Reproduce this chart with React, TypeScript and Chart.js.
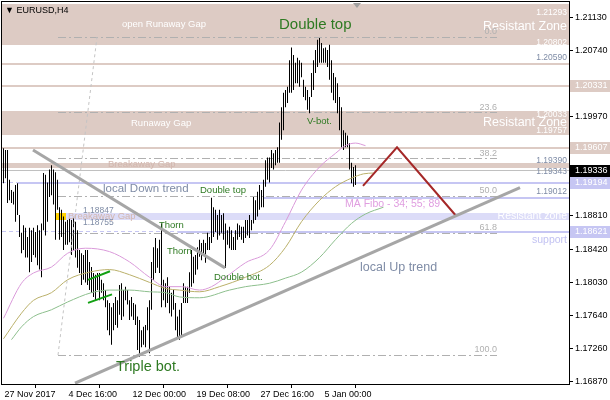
import React, { useEffect, useRef } from "react";
import { Chart, registerables } from "chart.js";

Chart.register(...registerables);

const FONT = '"Liberation Sans", Arial, sans-serif';

// ---- OHLC bars (H4), high / low per bar ----
const barHigh = [
  1.1960, 1.1958, 1.1958, 1.1923, 1.1911, 1.1909, 1.1917, 1.1919, 1.1882, 1.1861,
  1.1870, 1.1867, 1.1856, 1.1867, 1.1864, 1.1867, 1.1862, 1.1870, 1.1864, 1.1872,
  1.1931, 1.1929, 1.1920, 1.1935, 1.1940, 1.1935, 1.1932, 1.1923, 1.1891, 1.1888,
  1.1880, 1.1874, 1.1876, 1.1878, 1.1876, 1.1878, 1.1874, 1.1864, 1.1841, 1.1837,
  1.1835, 1.1841, 1.1841, 1.1827, 1.1821, 1.1814, 1.1812, 1.1814, 1.1814, 1.1806,
  1.1802, 1.1794, 1.1782, 1.1779, 1.1774, 1.1779, 1.1786, 1.1782, 1.1800, 1.1802,
  1.1794, 1.1798, 1.1794, 1.1782, 1.1786, 1.1779, 1.1777, 1.1763, 1.1759, 1.1747,
  1.1751, 1.1753, 1.1774, 1.1782, 1.1827, 1.1844, 1.1855, 1.1843, 1.1853, 1.1872,
  1.1806, 1.1802, 1.1809, 1.1798, 1.1791, 1.1794, 1.1779, 1.1763, 1.1771, 1.1779,
  1.1802, 1.1798, 1.1798, 1.1815, 1.1841, 1.1833, 1.1835, 1.1844, 1.1853, 1.1849,
  1.1853, 1.1849, 1.1861, 1.1856, 1.1902, 1.1891, 1.1888, 1.1882, 1.1888, 1.1882,
  1.1884, 1.1872, 1.1864, 1.1868, 1.1864, 1.1856, 1.1864, 1.1872, 1.1870, 1.1868,
  1.1868, 1.1876, 1.1876, 1.1882, 1.1876, 1.1903, 1.1899, 1.1909, 1.1917, 1.1911,
  1.1923, 1.1946, 1.1949, 1.1949, 1.1958, 1.1954, 1.1958, 1.1961, 1.1990, 1.2008,
  1.2025, 1.2028, 1.2032, 1.2063, 1.2078, 1.2069, 1.2060, 1.2066, 1.2063, 1.2060,
  1.2040, 1.2032, 1.2028, 1.2020, 1.2048, 1.2063, 1.2075, 1.2087, 1.2089, 1.2083,
  1.2077, 1.2078, 1.2075, 1.2081, 1.2063, 1.2048, 1.2043, 1.2036, 1.2020, 1.2008,
  1.1981, 1.1978, 1.1975, 1.1966, 1.1943, 1.1938, 1.1940,
];
const barLow = [
  1.1919, 1.1925, 1.1896, 1.1899, 1.1896, 1.1894, 1.1874, 1.1882, 1.1856, 1.1837,
  1.1841, 1.1832, 1.1832, 1.1815, 1.1827, 1.1835, 1.1832, 1.1823, 1.1818, 1.1809,
  1.1864, 1.1858, 1.1874, 1.1903, 1.1905, 1.1894, 1.1853, 1.1888, 1.1853, 1.1856,
  1.1841, 1.1847, 1.1847, 1.1850, 1.1835, 1.1841, 1.1832, 1.1820, 1.1814, 1.1800,
  1.1806, 1.1803, 1.1800, 1.1794, 1.1791, 1.1786, 1.1782, 1.1794, 1.1782, 1.1791,
  1.1782, 1.1774, 1.1747, 1.1741, 1.1730, 1.1747, 1.1753, 1.1750, 1.1765, 1.1759,
  1.1763, 1.1782, 1.1777, 1.1759, 1.1763, 1.1759, 1.1753, 1.1724, 1.1716, 1.1727,
  1.1730, 1.1727, 1.1747, 1.1720, 1.1771, 1.1806, 1.1814, 1.1820, 1.1814, 1.1774,
  1.1782, 1.1774, 1.1779, 1.1767, 1.1763, 1.1771, 1.1747, 1.1739, 1.1736, 1.1741,
  1.1779, 1.1779, 1.1779, 1.1791, 1.1798, 1.1802, 1.1812, 1.1818, 1.1833, 1.1829,
  1.1835, 1.1826, 1.1841, 1.1841, 1.1849, 1.1856, 1.1862, 1.1853, 1.1858, 1.1861,
  1.1853, 1.1820, 1.1847, 1.1843, 1.1841, 1.1841, 1.1841, 1.1853, 1.1856, 1.1853,
  1.1849, 1.1855, 1.1858, 1.1855, 1.1864, 1.1872, 1.1876, 1.1880, 1.1888, 1.1891,
  1.1891, 1.1915, 1.1923, 1.1920, 1.1937, 1.1935, 1.1940, 1.1943, 1.1943, 1.1970,
  1.1981, 1.2008, 1.2013, 1.2025, 1.2025, 1.2028, 1.2036, 1.2036, 1.2032, 1.2043,
  1.2020, 1.2016, 1.2005, 1.2001, 1.2020, 1.2028, 1.2048, 1.2055, 1.2060, 1.2060,
  1.2060, 1.2060, 1.2055, 1.2040, 1.2025, 1.2016, 1.2013, 1.2001, 1.1981, 1.1961,
  1.1958, 1.1961, 1.1961, 1.1935, 1.1919, 1.1915, 1.1917,
];

// ---- axes ----
const xTickIndex = [0, 32, 64, 96, 128, 160];
const xTickLabels = ["27 Nov 2017", "4 Dec 16:00", "12 Dec 00:00", "19 Dec 08:00", "27 Dec 16:00", "5 Jan 00:00"];
const yTickValues = [1.2113, 1.2074, 1.1997, 1.1881, 1.1842, 1.1803, 1.1764, 1.1726, 1.1687];
const X_MIN = -0.75;
const X_MAX = 282.75;
const Y_MIN = 1.16841;
const Y_MAX = 1.21311;

// ---- moving averages (MA Fibo 34 / 55 / 89), read at sample bars ----
const ma34Idx = [0, 9, 15, 24, 32, 41, 53, 63, 73, 81, 89, 98, 104, 111, 121, 133, 141, 149, 158, 166, 171, 176, 181];
const ma34Val = [1.1761, 1.1802, 1.1814, 1.1821, 1.1837, 1.1843, 1.1839, 1.1827, 1.1809, 1.1798, 1.1798, 1.1794, 1.1798, 1.1809, 1.1826, 1.1841, 1.1874, 1.1911, 1.1938, 1.1954, 1.1963, 1.1966, 1.1963];
const ma55Idx = [0, 9, 15, 24, 32, 43, 53, 63, 73, 81, 88, 98, 108, 121, 133, 141, 149, 158, 166, 174, 180, 185];
const ma55Val = [1.1737, 1.1767, 1.1782, 1.1791, 1.1806, 1.1815, 1.1818, 1.1812, 1.1803, 1.1796, 1.1794, 1.1792, 1.1798, 1.1809, 1.1823, 1.1844, 1.1874, 1.1899, 1.1915, 1.1925, 1.1930, 1.1931];
const ma89Idx = [4, 9, 15, 24, 32, 44, 53, 63, 73, 81, 88, 98, 113, 121, 133, 141, 149, 158, 166, 174, 181, 190];
const ma89Val = [1.1736, 1.1751, 1.1763, 1.1771, 1.1780, 1.1791, 1.1794, 1.1794, 1.1792, 1.1791, 1.1786, 1.1785, 1.1794, 1.1798, 1.1802, 1.1808, 1.1815, 1.1832, 1.1853, 1.1872, 1.1883, 1.1891];

// ---- drawn objects ----
const downTrendIdx = [14.75, 110.75];
const downTrendPrice = [1.1958, 1.182];
const upTrendIdx = [35.75, 258.25];
const upTrendPrice = [1.1685, 1.1914];
const redPathIdx = [179.75, 196.75, 226.25];
const redPathPrice = [1.1916, 1.1961, 1.1881];
const greenUpperIdx = [42.25, 53.25];
const greenUpperPrice = [1.1806, 1.1816];
const greenLowerIdx = [42.25, 54.25];
const greenLowerPrice = [1.1779, 1.1789];
const fiboDiagIdx = [27.25, 46.75];
const fiboDiagPrice = [1.1718, 1.209];
const fiboLevels = [0, 23.6, 38.2, 50, 61.8, 100];
const fiboHigh = 1.209;
const fiboLow = 1.1718;
const fiboSpan = [27.25, 246.75];

const roseBands = [[1.21293, 1.20802], [1.20033, 1.19757], [1.1943, 1.1937]];
const roseLines = [1.2059, 1.20331, 1.19607];
const lavLines = [1.19194, 1.19012, 1.18621];
const lavLineStart = [7, 130, 87];
const lavLineDashedBefore = [true, false, true];
const lavBand = [1.18847, 1.18755];
const lavBandStart = 31;
const yellowBox = [26, 31];
const bidPrice = 1.19336;
const chartShiftIdx = 176.75;

const ROSE = "#DDCBC4";
const LAV = "#C6C6F3";
const LAV_BAND = "#DCDCF8";
const WHITE = "#FFFFFF";
const SLATE = "#7F8CA6";
const GREEN = "#2E7A22";
const FIBO = "#B0B0B0";
const ROSE_TXT = "#D2B6AE";
const PLUM = "#E09EE0";
const LAV_TXT = "#C2C2F2";

const axisMarkPrice = [1.20331, 1.19607, 1.19336, 1.19194, 1.18621];
const axisMarkColor = [ROSE, ROSE, "#000000", LAV, LAV];

type Txt = [string, number, number, "left" | "right", string, number];
const texts: Txt[] = [
  ["\u25BC EURUSD,H4", 0.75, 1.2121, "left", "#000000", 9],
  ["open Runaway Gap", 59.25, 1.2105, "left", WHITE, 9.5],
  ["Resistant Zone", 281.75, 1.2102, "right", WHITE, 12.5],
  ["1.21293", 281.75, 1.2119, "right", WHITE, 8.5],
  ["1.20802", 281.75, 1.2084, "right", WHITE, 8.5],
  ["Double top", 137.75, 1.2104, "left", GREEN, 15],
  ["0.0", 246.75, 1.2096, "right", FIBO, 9],
  ["1.20590", 281.75, 1.2066, "right", SLATE, 8.5],
  ["23.6", 246.75, 1.2008, "right", FIBO, 9],
  ["1.20033", 281.75, 1.1999, "right", WHITE, 8.5],
  ["Runaway Gap", 63.75, 1.1989, "left", WHITE, 9.5],
  ["Resistant Zone", 281.75, 1.199, "right", WHITE, 12.5],
  ["V-bot.", 151.75, 1.1991, "left", GREEN, 9.5],
  ["1.19757", 281.75, 1.198, "right", WHITE, 8.5],
  ["38.2", 246.75, 1.1954, "right", FIBO, 9],
  ["1.19390", 281.75, 1.1945, "right", SLATE, 8.5],
  ["Breakaway Gap", 52.25, 1.1941, "left", ROSE_TXT, 9.5],
  ["1.19343", 281.75, 1.1932, "right", SLATE, 8.5],
  ["local Down trend", 49.75, 1.1913, "left", SLATE, 11.5],
  ["Double top", 98.25, 1.1911, "left", GREEN, 9.5],
  ["50.0", 246.75, 1.191, "right", FIBO, 9],
  ["1.19012", 281.75, 1.1909, "right", SLATE, 8.5],
  ["MA Fibo - 34; 55; 89", 170.75, 1.1895, "left", PLUM, 10.5],
  ["1.18847", 39.75, 1.1887, "left", SLATE, 8.5],
  ["Breakaway Gap", 32.25, 1.188, "left", ROSE_TXT, 9.5],
  ["Resistant zone", 281.75, 1.1881, "right", WHITE, 10.5],
  ["1.18755", 39.75, 1.1873, "left", SLATE, 8.5],
  ["Thorn", 77.75, 1.187, "left", GREEN, 9.5],
  ["61.8", 246.75, 1.1867, "right", FIBO, 9],
  ["support", 281.75, 1.1853, "right", LAV_TXT, 10.5],
  ["Thorn", 81.75, 1.1839, "left", GREEN, 9.5],
  ["local Up trend", 178.25, 1.182, "left", SLATE, 12.5],
  ["Double bot.", 105.25, 1.1809, "left", GREEN, 9.5],
  ["100.0", 246.75, 1.1724, "right", FIBO, 9],
  ["Triple bot.", 56.25, 1.1704, "left", GREEN, 14.5],
];

function hline(ctx: CanvasRenderingContext2D, x1: number, x2: number, y: number, w: number, color: string, dash?: number[]) {
  ctx.save();
  ctx.strokeStyle = color;
  ctx.lineWidth = w;
  ctx.setLineDash(dash || []);
  const yy = w % 2 === 1 ? Math.round(y - 0.5) + 0.5 : Math.round(y);
  ctx.beginPath();
  ctx.moveTo(x1, yy);
  ctx.lineTo(x2, yy);
  ctx.stroke();
  ctx.restore();
}

const pts = (idx: number[], val: number[]) => idx.map((x, k) => ({ x, y: val[k] }));

const overlayPlugin = {
  id: "overlay",
  beforeDatasetsDraw(chart: any) {
    const { ctx, chartArea: ca, scales } = chart;
    const X = (v: number) => scales.x.getPixelForValue(v);
    const Y = (v: number) => scales.y.getPixelForValue(v);
    ctx.save();
    ctx.beginPath();
    ctx.rect(ca.left, ca.top, ca.right - ca.left, ca.bottom - ca.top);
    ctx.clip();
    const w = ca.right - ca.left;
    ctx.fillStyle = ROSE;
    roseBands.forEach(([a, b]) => {
      const y1 = Math.round(Y(a));
      const y2 = Math.round(Y(b));
      ctx.fillRect(ca.left, y1, w, y2 - y1);
    });
    roseLines.forEach((p) => hline(ctx, ca.left, ca.right, Y(p), 2, ROSE));
    // lavender band + yellow box
    {
      const y1 = Math.round(Y(lavBand[0]));
      const y2 = Math.round(Y(lavBand[1]));
      ctx.fillStyle = LAV_BAND;
      ctx.fillRect(Math.round(X(lavBandStart)), y1, ca.right - Math.round(X(lavBandStart)), y2 - y1);
      ctx.fillStyle = "#FFD200";
      ctx.fillRect(Math.round(X(yellowBox[0])), y1, Math.round(X(yellowBox[1])) - Math.round(X(yellowBox[0])), y2 - y1);
    }
    lavLines.forEach((p, k) => {
      const xs = X(lavLineStart[k]);
      if (lavLineDashedBefore[k]) hline(ctx, ca.left, xs, Y(p), 1, LAV, [4, 3]);
      hline(ctx, xs, ca.right, Y(p), 2, LAV);
    });
    // bid line
    hline(ctx, ca.left, ca.right, Y(bidPrice), 1, "#C0C0C0");
    // fibo levels
    fiboLevels.forEach((lv) => {
      const p = fiboHigh - ((fiboHigh - fiboLow) * lv) / 100;
      hline(ctx, X(fiboSpan[0]), X(fiboSpan[1]), Y(p), 1, FIBO, [8, 3, 2, 3]);
    });
    ctx.restore();
  },
  afterDatasetsDraw(chart: any) {
    const { ctx, chartArea: ca, scales } = chart;
    const X = (v: number) => scales.x.getPixelForValue(v);
    const Y = (v: number) => scales.y.getPixelForValue(v);
    ctx.save();
    ctx.beginPath();
    ctx.rect(ca.left, ca.top, ca.right - ca.left, ca.bottom - ca.top);
    ctx.clip();
    ctx.textBaseline = "middle";
    texts.forEach(([t, i, p, align, color, size]) => {
      ctx.font = `${size}px ${FONT}`;
      ctx.fillStyle = color;
      ctx.textAlign = align;
      ctx.fillText(t, X(i), Y(p));
    });
    // chart shift marker
    const sx = Math.round(X(chartShiftIdx));
    ctx.fillStyle = "#A0A0A0";
    ctx.beginPath();
    ctx.moveTo(sx - 4, ca.top + 1);
    ctx.lineTo(sx + 4, ca.top + 1);
    ctx.lineTo(sx, ca.top + 6);
    ctx.closePath();
    ctx.fill();
    ctx.restore();
  },
  afterDraw(chart: any) {
    const { ctx, chartArea: ca, scales } = chart;
    const Y = (v: number) => scales.y.getPixelForValue(v);
    ctx.save();
    ctx.strokeStyle = "#000";
    ctx.lineWidth = 1;
    ctx.strokeRect(ca.left - 0.5, ca.top - 0.5, ca.right - ca.left + 1, ca.bottom - ca.top + 1);
    axisMarkPrice.forEach((p, k) => {
      const yc = Math.round(Y(p));
      ctx.fillStyle = axisMarkColor[k];
      ctx.fillRect(ca.right + 1, yc - 6, 610 - ca.right - 1, 12);
      ctx.fillStyle = "#FFFFFF";
      ctx.font = `9px ${FONT}`;
      ctx.textAlign = "left";
      ctx.textBaseline = "middle";
      ctx.fillText(p.toFixed(5), ca.right + 6, yc);
    });
    ctx.restore();
  },
};

export default function App() {
  const ref = useRef<HTMLCanvasElement | null>(null);
  useEffect(() => {
    if (!ref.current) return;
    const chart = new Chart(ref.current, {
      type: "bar",
      data: {
        datasets: [
          {
            type: "line",
            data: pts(downTrendIdx, downTrendPrice),
            borderColor: "#A6A6A6",
            borderWidth: 3,
            pointRadius: 0,
            order: 1,
          } as any,
          {
            type: "line",
            data: pts(upTrendIdx, upTrendPrice),
            borderColor: "#A6A6A6",
            borderWidth: 3,
            pointRadius: 0,
            order: 1,
          } as any,
          {
            type: "line",
            data: pts(redPathIdx, redPathPrice),
            borderColor: "#A52828",
            borderWidth: 2,
            pointRadius: 0,
            order: 1,
          } as any,
          {
            type: "line",
            data: pts(greenUpperIdx, greenUpperPrice),
            borderColor: "#12A012",
            borderWidth: 2,
            pointRadius: 0,
            order: 1,
          } as any,
          {
            type: "line",
            data: pts(greenLowerIdx, greenLowerPrice),
            borderColor: "#12A012",
            borderWidth: 2,
            pointRadius: 0,
            order: 1,
          } as any,
          {
            type: "line",
            data: pts(fiboDiagIdx, fiboDiagPrice),
            borderColor: "#C4C4C4",
            borderWidth: 1,
            borderDash: [3, 3],
            pointRadius: 0,
            order: 1,
          } as any,
          {
            type: "line",
            data: pts(ma34Idx, ma34Val),
            borderColor: "#DA9ADA",
            borderWidth: 1,
            pointRadius: 0,
            cubicInterpolationMode: "monotone",
            order: 3,
          } as any,
          {
            type: "line",
            data: pts(ma55Idx, ma55Val),
            borderColor: "#BAB06A",
            borderWidth: 1,
            pointRadius: 0,
            cubicInterpolationMode: "monotone",
            order: 3,
          } as any,
          {
            type: "line",
            data: pts(ma89Idx, ma89Val),
            borderColor: "#8DBF8D",
            borderWidth: 1,
            pointRadius: 0,
            cubicInterpolationMode: "monotone",
            order: 3,
          } as any,
          {
            type: "bar",
            data: barHigh.map((h, i) => ({ x: i, y: [barLow[i], h] })),
            backgroundColor: "#000000",
            borderWidth: 0,
            barThickness: 1,
            inflateAmount: 0,
            grouped: false,
            order: 5,
          } as any,
        ],
      },
      options: {
        animation: false,
        responsive: false,
        devicePixelRatio: 1,
        events: [],
        layout: { padding: { left: 2, top: 2, right: 0, bottom: 0 } },
        plugins: { legend: { display: false }, tooltip: { enabled: false } },
        scales: {
          x: {
            type: "linear",
            min: X_MIN,
            max: X_MAX,
            bounds: "data",
            offset: false,
            border: { display: false },
            grid: { display: true, drawOnChartArea: false, drawTicks: true, tickLength: 4, color: "#000" },
            ticks: {
              autoSkip: false,
              maxRotation: 0,
              align: "start",
              padding: 1,
              labelOffset: 1,
              color: "#000",
              font: { family: FONT, size: 9 },
              callback: (_v: any, i: number) => xTickLabels[i],
            },
            afterBuildTicks: (s: any) => {
              s.ticks = xTickIndex.map((v) => ({ value: v }));
            },
            afterFit: (s: any) => {
              s.height = 16;
              s.paddingLeft = 0;
              s.paddingRight = 0;
            },
          },
          y: {
            type: "linear",
            position: "right",
            min: Y_MIN,
            max: Y_MAX,
            bounds: "data",
            border: { display: false },
            grid: { display: true, drawOnChartArea: false, drawTicks: true, tickLength: 4, color: "#000" },
            ticks: {
              padding: 2,
              color: "#000",
              font: { family: FONT, size: 9 },
              callback: (v: any) => Number(v).toFixed(5),
            },
            afterBuildTicks: (s: any) => {
              s.ticks = yTickValues.map((v) => ({ value: v }));
            },
            afterFit: (s: any) => {
              s.width = 41;
              s.paddingTop = 0;
              s.paddingBottom = 0;
            },
          },
        },
      } as any,
      plugins: [overlayPlugin],
    });
    return () => chart.destroy();
  }, []);
  return (
    <div style={{ position: "fixed", left: 0, top: 0, width: 610, height: 400, background: "#fff" }}>
      <canvas ref={ref} width={610} height={400} style={{ display: "block" }} />
    </div>
  );
}
